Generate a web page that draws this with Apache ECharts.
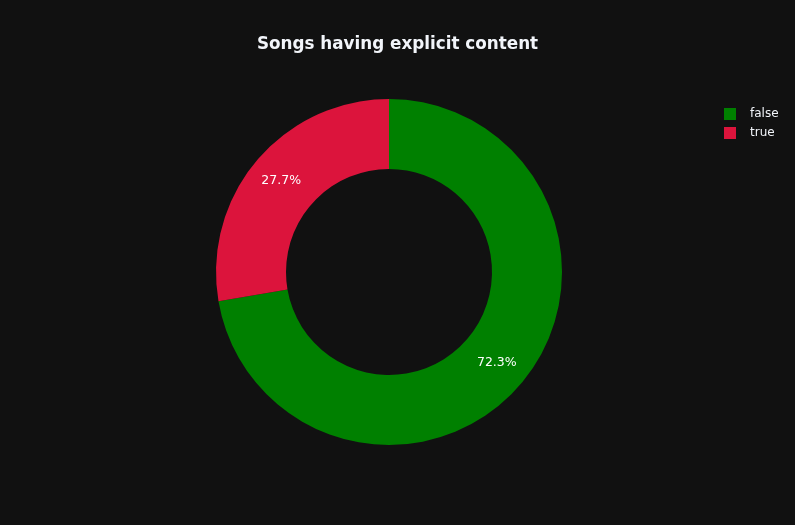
<!DOCTYPE html>
<html><head><meta charset="utf-8">
<script src="https://cdn.jsdelivr.net/npm/echarts@6/dist/echarts.min.js"></script>
<style>html,body{margin:0;padding:0;background:#111111;}#c{width:795px;height:525px;}</style>
</head><body><div id="c"></div>
<script>
const categories = ['false', 'true'];
const values = [72.3, 27.7];
const colors = ['#008000', '#DC143C'];

const chart = echarts.init(document.getElementById('c'), null, {renderer: 'canvas'});
chart.setOption({
  backgroundColor: '#111111',
  animation: false,
  title: {
    text: 'Songs having explicit content',
    left: 'center', top: 36, padding: 0,
    textStyle: {color: '#f2f5fa', fontFamily: 'DejaVu Sans', fontWeight: 'bold', fontSize: 16.8}
  },
  legend: {
    orient: 'vertical', left: 724, top: 108, padding: 0,
    icon: 'rect', itemWidth: 12, itemHeight: 12, itemGap: 7,
    textStyle: {color: '#f2f5fa', fontFamily: 'DejaVu Sans', fontSize: 12, padding: [0, 0, 0, 9]},
    data: categories
  },
  series: [{
    type: 'pie',
    center: [389, 272],
    radius: [103, 173],
    startAngle: 90,
    clockwise: true,
    percentPrecision: 1,
    label: {position: 'inside', formatter: '{d}%', color: '#ffffff', fontFamily: 'DejaVu Sans', fontSize: 12.5},
    labelLine: {show: false},
    emphasis: {disabled: true},
    data: categories.map((c, i) => ({name: c, value: values[i], itemStyle: {color: colors[i]}}))
  }]
});
</script></body></html>
